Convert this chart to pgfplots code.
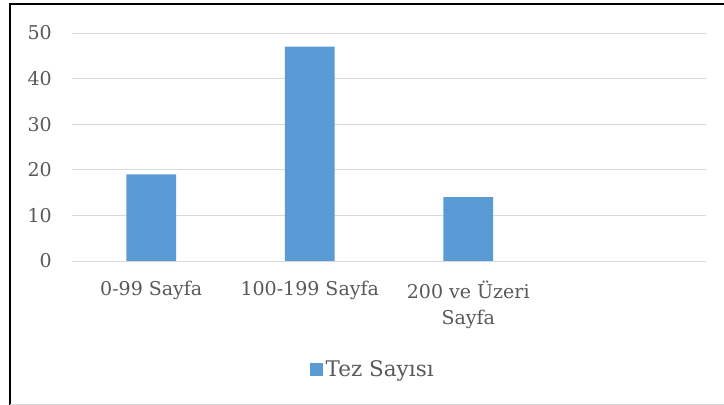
\documentclass[border=0pt]{standalone}
\usepackage{pgfplots}
\pgfplotsset{compat=1.18}
\usepackage{fontspec}
\setmainfont{DejaVu Serif}
\definecolor{barblue}{HTML}{5B9BD5}
\definecolor{txtgray}{HTML}{595959}
\definecolor{gridgray}{HTML}{D9D9D9}
\begin{document}
\begin{tikzpicture}
\useasboundingbox (0,0) rectangle (724bp,405bp);
\fill[white] (0,0) rectangle (724bp,405bp);
\begin{axis}[
    at={(72bp,144bp)}, anchor=south west,
    scale only axis,
    width=634bp, height=228bp,
    xmin=-0.5, xmax=3.5,
    ymin=0, ymax=50,
    ytick={0,10,20,30,40,50},
    xtick={0,1,2},
    xticklabels={0-99 Sayfa,100-199 Sayfa,{200 ve Üzeri\\Sayfa}},
    major tick length=0pt,
    axis line style={draw=none},
    ymajorgrids,
    grid style={gridgray, line width=1pt},
    /pgf/number format/assume math mode=true,
    tick label style={txtgray, font=\fontsize{19bp}{26bp}\selectfont},
    yticklabel style={inner sep=0pt, xshift=-20bp},
    xticklabel style={inner sep=0pt, yshift=-20bp, align=center},
    ybar, bar width=0.315,
    legend style={at={(0.475,-0.474)}, anchor=center, draw=none, fill=none,
        text=txtgray, font=\fontsize{21.5bp}{26bp}\selectfont,
        inner sep=0pt, nodes={inner xsep=3bp}},
    legend image code/.code={\fill[barblue] (0bp,-6.5bp) rectangle (13bp,6.5bp);},
    legend cell align=left,
]
\addplot[fill=barblue, draw=none] coordinates {(0,19) (1,47) (2,14)};
\addlegendentry{Tez Sayısı}
\draw[gridgray, line width=1pt] (axis cs:-0.5,0) -- (axis cs:3.5,0);
\end{axis}
\draw[black, line width=2pt] (10bp,0bp) -- (10bp,401bp) -- (724bp,401bp);
\draw[gridgray, line width=1pt] (10bp,1bp) -- (724bp,1bp);
\end{tikzpicture}
\end{document}
